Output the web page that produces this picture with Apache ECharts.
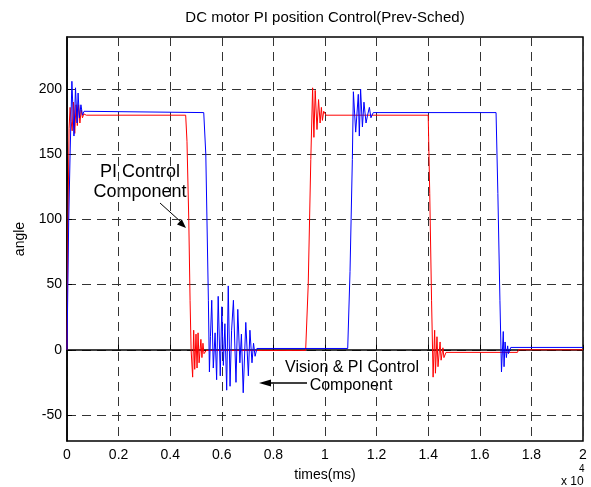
<!DOCTYPE html>
<html>
<head>
<meta charset="utf-8">
<script src="https://cdn.jsdelivr.net/npm/echarts@6/dist/echarts.min.js"></script>
<style>html,body{margin:0;padding:0;background:#fff;}#c{width:591px;height:487px;}</style>
</head>
<body>
<div id="c"></div>
<script>
// ---- data ----
var xTicks = [0, 0.2, 0.4, 0.6, 0.8, 1, 1.2, 1.4, 1.6, 1.8, 2];
var yTicks = [-50, 0, 50, 100, 150, 200];

var redT = [0, 0.004, 0.008, 0.012, 0.016, 0.02, 0.025, 0.03, 0.035, 0.04, 0.045, 0.05, 0.055, 0.06, 0.065, 0.075,
  0.46, 0.465, 0.472, 0.477, 0.481, 0.487, 0.491, 0.495, 0.5, 0.504, 0.508, 0.512, 0.519, 0.523, 0.527, 0.531, 0.54,
  0.925, 0.935, 0.945, 0.952, 0.957, 0.962, 0.969, 0.975, 0.981, 0.986, 0.99, 0.995, 1.004,
  1.40, 1.406, 1.413, 1.419, 1.425, 1.428, 1.434, 1.438, 1.446, 1.45, 1.457, 1.461, 1.469,
  1.746, 1.75, 2];
var redY = [0, 100, 170, 186, 175, 168, 190, 166, 188, 172, 188, 174, 184, 178, 181, 180,
  180, 160, 100, 38, 0, -21, 15, -15, 12, -14, 13, -10, 8, -6, 5, -3, -0.5,
  -0.5, 50, 146, 201, 163, 199, 169, 192, 174, 186, 176, 183, 180,
  180, 120, 38, -21, 15, -18, 10, -13, 6, -8, 1.5, -6, -2,
  -2, 0, 0];

var blueT = [0, 0.0065, 0.012, 0.019, 0.027, 0.033, 0.039, 0.043, 0.048, 0.054, 0.06, 0.066, 0.07,
  0.53, 0.538, 0.548, 0.552, 0.556, 0.561, 0.567, 0.574, 0.58, 0.586, 0.594, 0.6, 0.606, 0.612, 0.619, 0.625,
  0.632, 0.638, 0.645, 0.655, 0.662, 0.67, 0.676, 0.683, 0.693, 0.703, 0.709, 0.717, 0.723, 0.729, 0.736,
  1.088, 1.097, 1.106, 1.110, 1.119, 1.129, 1.133, 1.138, 1.145, 1.151, 1.159, 1.165, 1.172, 1.178, 1.187,
  1.663, 1.67, 1.678, 1.684, 1.691, 1.694, 1.698, 1.703, 1.708, 1.711, 1.72, 2];
var blueY = [0, 98, 150, 206, 164, 201, 174, 197, 178, 188, 180, 183, 182,
  182, 150, 38, -17, 10, 38, -14, 13, -23, 41, -20, 33, -12, 20, -31, 49,
  -28, 15, 38, -25, 31, -10, 12, -33, 21, -20, 15, -10, 5, -5, 1,
  1, 60, 146, 198, 167, 196, 164, 200, 171, 190, 174, 180, 186, 178, 182,
  182, 120, 38, -17, 14, -13, 6, -6, 3, -3, 1.8, 1.8];

function zip(t, y) { var o = []; for (var i = 0; i < t.length; i++) o.push([t[i], y[i]]); return o; }

var FONT = '"Liberation Sans", Arial, Helvetica, sans-serif';
var chart = echarts.init(document.getElementById('c'), null, {renderer: 'canvas'});
chart.setOption({
  animation: false,
  backgroundColor: '#fff',
  grid: {left: 67, right: 8, top: 37, bottom: 45, show: true, borderColor: '#000', borderWidth: 1.5, backgroundColor: 'transparent'},
  xAxis: {
    type: 'value', min: 0, max: 2, interval: 0.2,
    name: 'times(ms)', nameLocation: 'middle', nameGap: 27,
    nameTextStyle: {color: '#000', fontSize: 14, fontFamily: FONT},
    axisLine: {show: true, lineStyle: {color: '#000', width: 1.5}},
    axisTick: {show: true, inside: true, length: 5, lineStyle: {color: '#000'}},
    axisLabel: {color: '#000', fontSize: 14, fontFamily: FONT, margin: 7,
      formatter: function (v) { return String(Math.round(v * 10) / 10); }},
    splitLine: {show: true, lineStyle: {color: '#333', type: [9, 6], width: 1}}
  },
  yAxis: {
    type: 'value', min: -70, max: 240,
    name: 'angle', nameLocation: 'middle', nameGap: 40, nameRotate: 90,
    nameTextStyle: {color: '#000', fontSize: 14, fontFamily: FONT},
    axisLine: {show: true, lineStyle: {color: '#000', width: 1.5}},
    axisTick: {show: true, inside: true, length: 5, customValues: yTicks, lineStyle: {color: '#000'}},
    axisLabel: {color: '#000', fontSize: 14, fontFamily: FONT, margin: 5, customValues: yTicks},
    splitLine: {show: true, lineStyle: {color: '#333', type: [9, 6], width: 1}}
  },
  series: [
    {type: 'line', name: 'PI Control', data: zip(redT, redY), showSymbol: false, symbol: 'none',
      lineStyle: {color: '#ff0000', width: 1}, itemStyle: {color: '#ff0000'}, z: 3},
    {type: 'line', name: 'Vision & PI Control', data: zip(blueT, blueY), showSymbol: false, symbol: 'none',
      lineStyle: {color: '#0000ff', width: 1}, itemStyle: {color: '#0000ff'}, z: 4}
  ],
  graphic: [
    {type: 'text', x: 325, y: 18, style: {text: 'DC motor PI position Control(Prev-Sched)', fill: '#000', font: '15px ' + FONT, align: 'center', verticalAlign: 'middle'}},
    {type: 'text', x: 140, y: 172, style: {text: 'PI Control', fill: '#000', font: '18px ' + FONT, align: 'center', verticalAlign: 'middle'}},
    {type: 'text', x: 140, y: 192, style: {text: 'Component', fill: '#000', font: '18px ' + FONT, align: 'center', verticalAlign: 'middle'}},
    {type: 'line', shape: {x1: 160, y1: 203, x2: 181, y2: 222}, style: {stroke: '#000', lineWidth: 1}},
    {type: 'polygon', shape: {points: [[186, 228], [181.8, 219.3], [177.0, 224.5]]}, style: {fill: '#000'}},
    {type: 'text', x: 352, y: 368, style: {text: 'Vision & PI Control', fill: '#000', font: '16px ' + FONT, align: 'center', verticalAlign: 'middle'}},
    {type: 'text', x: 351, y: 386, style: {text: 'Component', fill: '#000', font: '16px ' + FONT, align: 'center', verticalAlign: 'middle'}},
    {type: 'line', shape: {x1: 268, y1: 383, x2: 307, y2: 383}, style: {stroke: '#000', lineWidth: 1.5}},
    {type: 'polygon', shape: {points: [[259, 383], [271, 379.5], [271, 386.5]]}, style: {fill: '#000'}},
    {type: 'text', x: 561, y: 482, style: {text: 'x 10', fill: '#000', font: '12px ' + FONT, verticalAlign: 'middle'}},
    {type: 'text', x: 579, y: 469, style: {text: '4', fill: '#000', font: '10px ' + FONT, verticalAlign: 'middle'}}
  ]
});
</script>
</body>
</html>
